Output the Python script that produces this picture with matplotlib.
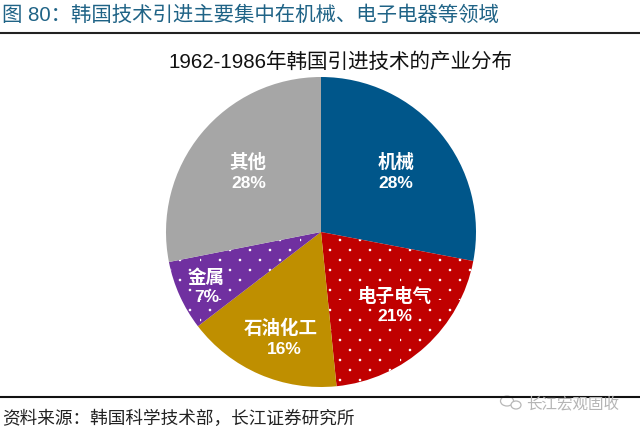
import matplotlib
matplotlib.use("Agg")
import matplotlib.pyplot as plt
from matplotlib import hatch as mhatch
from matplotlib.patches import Ellipse
from matplotlib.path import Path

# coding=utf-8

plt.rcParams['font.family'] = ['Liberation Sans', 'Noto Sans CJK SC', 'DejaVu Sans']

categories = ["机械", "电子电气", "石油化工", "金属", "其他"]
shares = [28.0, 20.4, 16.2, 7.3, 28.1]
share_labels = ["28%", "21%", "16%", "7%", "28%"]
colors = ["#00568a", "#c00000", "#bf8f00", "#7030a0", "#a6a6a6"]
hatches = [None, "o", None, "o", None]
name_pos = [(396, 163), (395, 297), (281, 329), (206, 278), (248, 163)]
share_pos = [(396, 184), (395, 317), (284, 350), (207, 298), (249, 184)]

header = "图 80：韩国技术引进主要集中在机械、电子电器等领域"
title = "1962-1986年韩国引进技术的产业分布"
source = "资料来源：韩国科学技术部，长江证券研究所"
watermark = "长江宏观固收"


# the stock '.' hatch has equal row and column spacing, the chart has wide columns
class WideDots(mhatch.HatchPatternBase):
    def __init__(self, hatch, density):
        self.num_vertices = 0
        self.centers = []
        if 'o' in hatch:
            for row in range(10):
                for col in range(5):
                    self.centers.append(((col + 0.5 * (row % 2)) / 5, row / 10))
            self.num_vertices = len(self.centers) * len(Path.unit_circle().vertices)

    def set_vertices_and_codes(self, vertices, codes):
        circle = Path.unit_circle()
        n = len(circle.vertices)
        pos = 0
        for cx, cy in self.centers:
            vertices[pos:pos + n] = circle.vertices * 0.013 + [cx, cy]
            codes[pos:pos + n] = circle.codes
            pos += n


mhatch._hatch_types[:] = [WideDots]
plt.rcParams['hatch.color'] = 'white'
plt.rcParams['hatch.linewidth'] = 0.0

fig = plt.figure(figsize=(6.4, 4.31), dpi=100)

pie_ax = fig.add_axes([0, 0, 1, 1])
wedges, _ = pie_ax.pie(shares, colors=colors, startangle=90, counterclock=False,
                       center=(321, 431 - 233), radius=155, frame=True,
                       wedgeprops={'linewidth': 0})
for w, h in zip(wedges, hatches):
    if h:
        w.set_hatch(h)
        w.set_edgecolor('white')
        w.set_linewidth(0)
pie_ax.set_xlim(0, 640)
pie_ax.set_ylim(0, 431)
pie_ax.axis('off')

# second axes on top in pixel coordinates for text and rules
ax = fig.add_axes([0, 0, 1, 1])
ax.set_xlim(0, 640)
ax.set_ylim(431, 0)
ax.patch.set_alpha(0)
ax.axis('off')

ax.text(2, 15, header, fontsize=14.7, color="#1f6386", va='center', ha='left')
ax.plot([0, 640], [34, 34], color="#222222", lw=1.5)
ax.plot([0, 640], [398, 398], color="#111111", lw=1.5)
ax.text(341, 62, title, fontsize=14.8, color="#111111", va='center', ha='center')
ax.text(2, 419, source, fontsize=12.7, color="#222222", va='center', ha='left')

for cat, (x, y) in zip(categories, name_pos):
    ax.text(x, y, cat, fontsize=13.3, color='white', ha='center', va='center', fontweight='bold')
for lab, (x, y) in zip(share_labels, share_pos):
    ax.text(x, y, lab, fontsize=12.5, color='white', ha='center', va='center', fontweight='bold')

# watermark, small wechat mark + name
ax.add_patch(Ellipse((507, 402), 13, 10, fill=False, ec="#b8b8b8", lw=0.9))
ax.add_patch(Ellipse((516, 406), 10, 8, fc='white', ec="#b8b8b8", lw=0.9))
ax.text(526, 404, watermark, fontsize=11.2, color="#b5b5b5", va='center', ha='left')

fig.savefig("out.png", dpi=100)
